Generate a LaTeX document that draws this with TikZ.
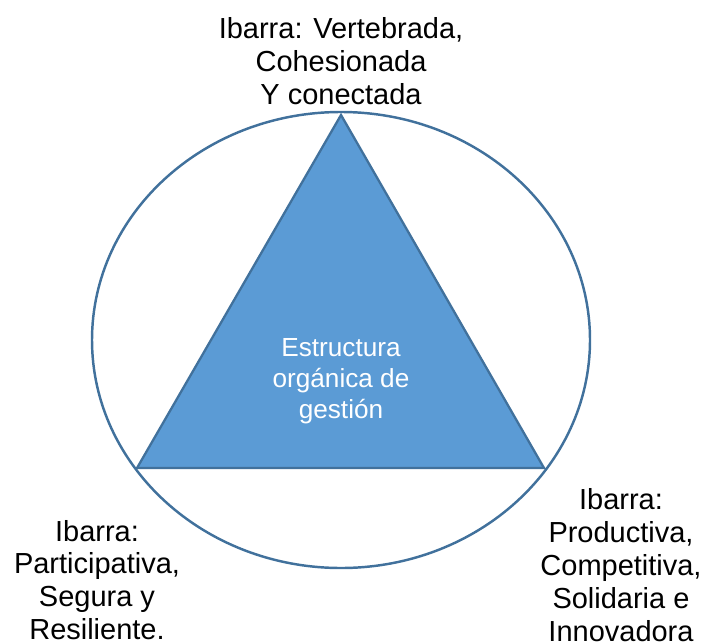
\documentclass[tikz,border=0pt]{standalone}
\usepackage{fontspec}
\setmainfont{Liberation Sans}
\definecolor{triFill}{HTML}{5B9BD5}
\definecolor{triLine}{HTML}{41719C}
\begin{document}
\begin{tikzpicture}[x=0.02cm, y=-0.02cm, thick,
    axisText/.style={align=center, inner sep=0pt, font=\fontsize{16.5}{18.7}\selectfont},
    coreText/.style={align=center, inner sep=0pt, text=white, font=\fontsize{14.9}{17.6}\selectfont}]
\useasboundingbox (0,0) rectangle (715,642);
\draw[triLine, line width=1.4pt](341,340) ellipse [x radius=249, y radius=228];
\draw[triLine, fill=triFill, line width=1.3pt](341,115)--(544,468)--(137,468)--cycle;

\node[coreText] (core) at (341,381) {Estructura\\orgánica de\\gestión};
\node[axisText] (vertebrada) at (341,61) {Ibarra: Vertebrada,\\Cohesionada\\Y conectada};
\node[axisText] (participativa) at (97,580) {Ibarra:\\Participativa,\\Segura y\\Resiliente.};
\node[axisText] (productiva) at (621,565) {Ibarra:\\Productiva,\\Competitiva,\\Solidaria e\\Innovadora};
\end{tikzpicture}
\end{document}
